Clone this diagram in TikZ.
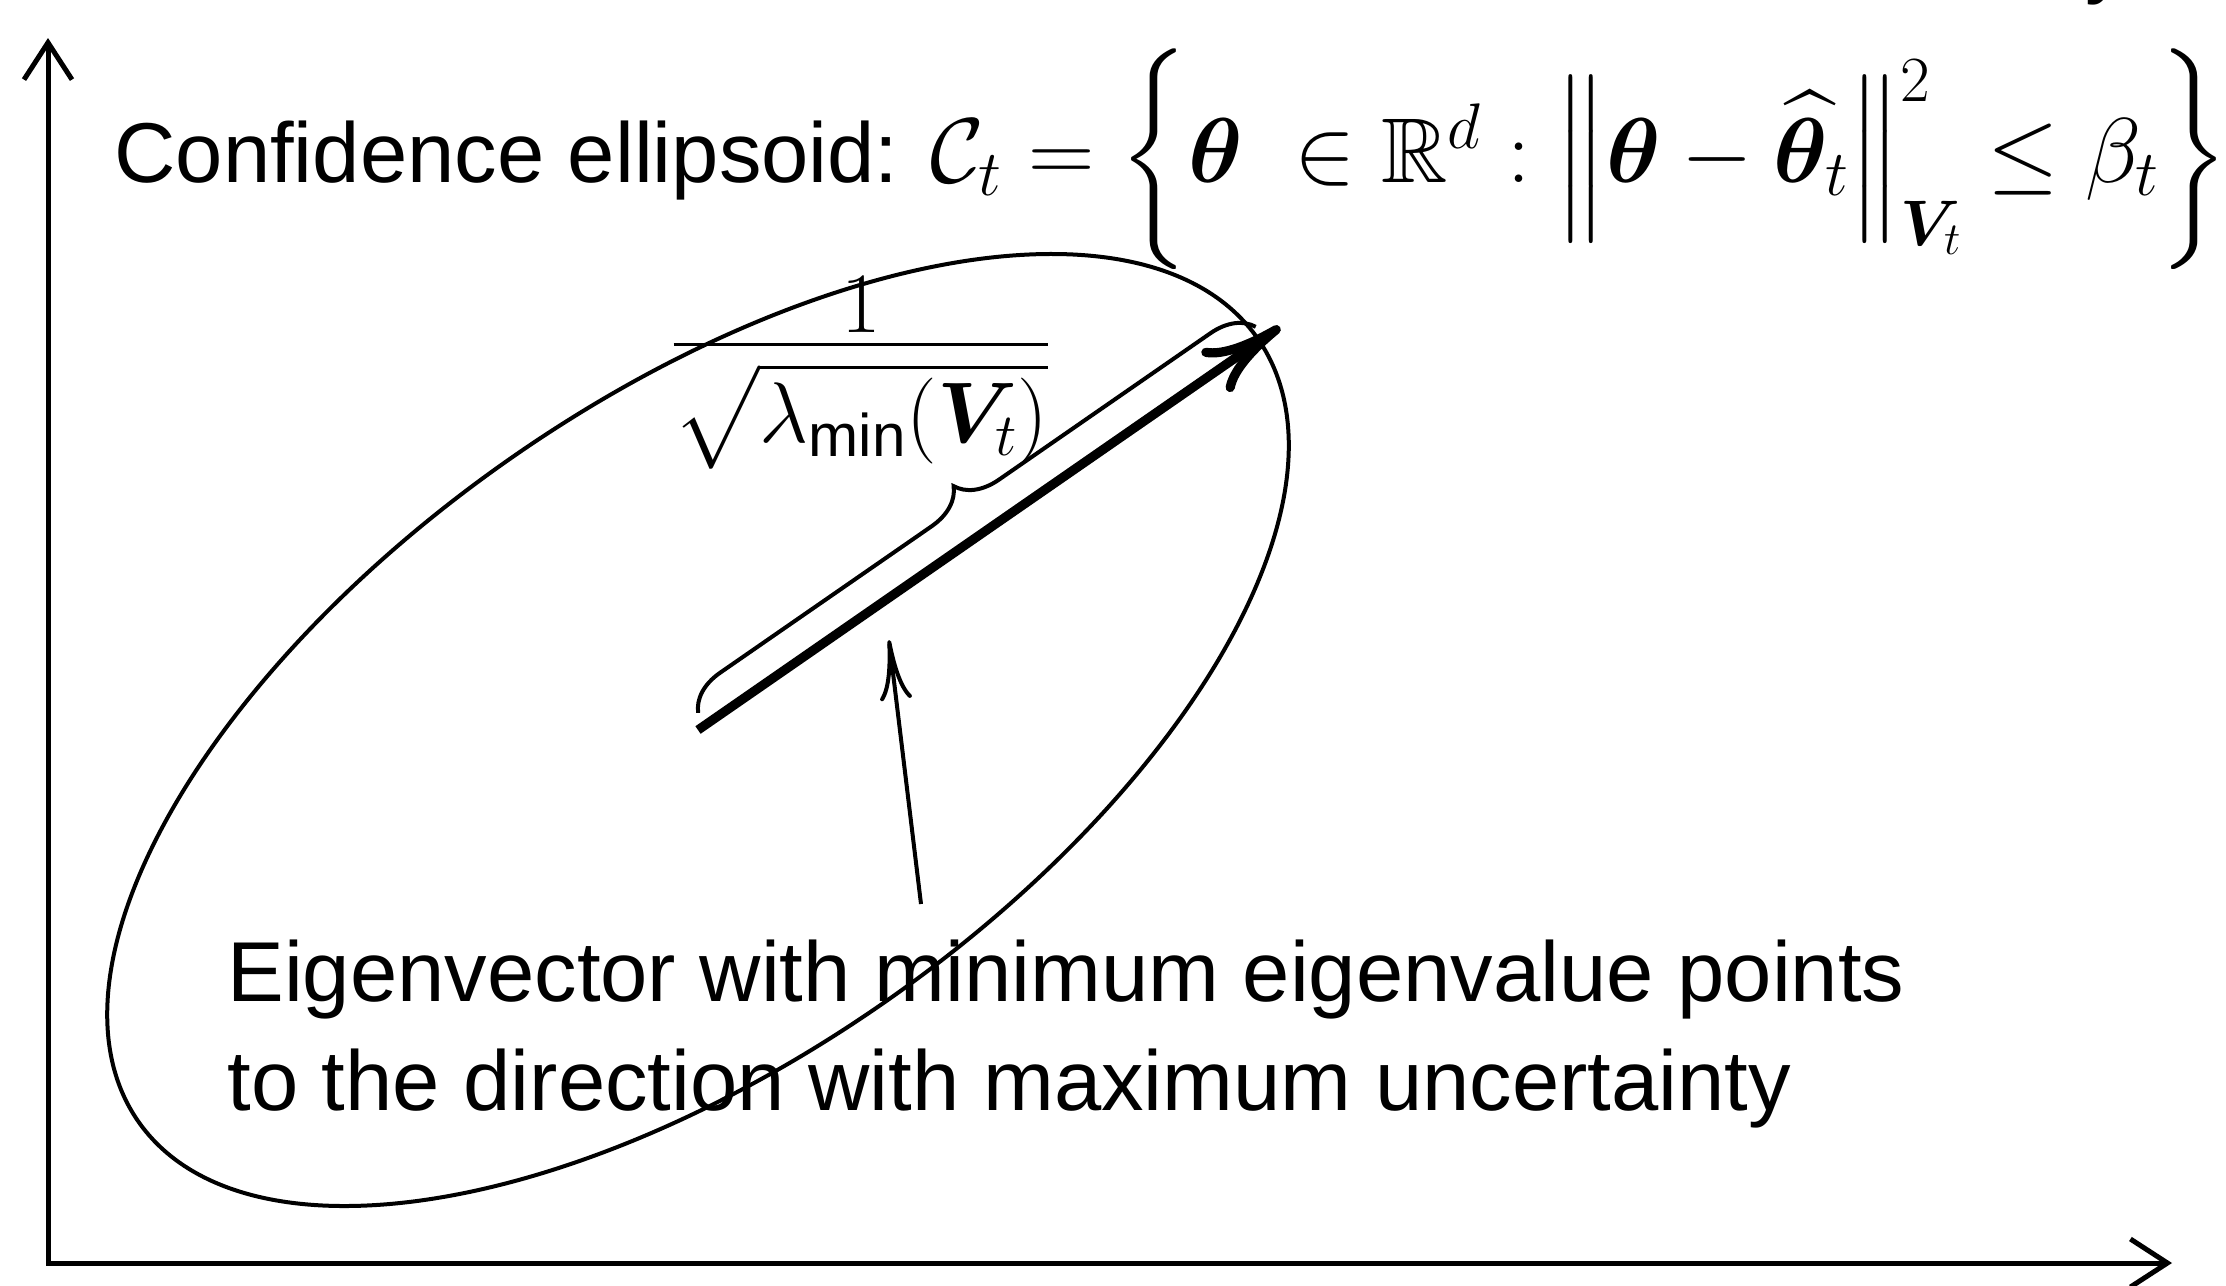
\RequirePackage{fix-cm}
\documentclass[tikz,border=0pt]{standalone}
\usepackage{amsmath,amssymb}
\usepackage{bm}
\usepackage[no-math]{fontspec}
\newfontfamily\hv{Liberation Sans}
\usetikzlibrary{arrows.meta,decorations.pathreplacing,calc}
\tikzset{
  axisline/.style={line width=2.5pt, line join=miter,
    {Straight Barb[length=18.5pt,width=24pt]}-{Straight Barb[length=18.5pt,width=24pt]}},
  ell/.style={line width=2pt},
  vecarrow/.style={line width=4.6pt, -{Computer Modern Rightarrow[length=40pt,width=26pt]}},
  pointer/.style={line width=2pt, -{Computer Modern Rightarrow[length=30pt,width=16pt]}},
  bracestyle/.style={line width=2pt, decorate, decoration={brace, amplitude=20.5pt, raise=7pt}},
  txt/.style={inner sep=0pt, font=\fontsize{42.5}{54.5}\selectfont\hv},
  mth/.style={inner sep=0pt, font=\fontsize{43}{52}\selectfont}
}
\begin{document}
\begin{tikzpicture}[x=0.5pt,y=-0.5pt]
\useasboundingbox (0,0) rectangle (2226,1285);
% axes
\coordinate (Ytip) at (48,38);
\coordinate (O) at (48,1263);
\coordinate (Xtip) at (2172,1263);
\draw[axisline] (Ytip) -- (O) -- (Xtip);
% ellipse
\coordinate (C) at (698,730);
\draw[ell, rotate around={35:(C)}] (C) ellipse [x radius=683, y radius=330];
% eigenvector arrow
\coordinate (T) at (1280,327);
\draw[vecarrow] (C) -- (T);
% brace
\coordinate (B1) at ($(C)!0.014!(T)$);
\coordinate (B2) at ($(C)!0.972!(T)$);
\draw[bracestyle] (B1) -- (B2);
% brace label (fraction bar centred at (861,345))
\node[mth, anchor=base] (lab) at (861,366) {$\frac{\textstyle 1}{\textstyle\rule{0pt}{1.08em}\sqrt{\lambda_{\text{\hv min}}(\bm{V}_t)}}$};
% title
\node[txt, anchor=base west] (title) at (114,182) {Confidence ellipsoid: {\fontsize{46}{56}\selectfont$\mathcal{C}_t = \left\{\bm{\theta}\ \in \mathbb{R}^d : \left\|\bm{\theta} - \widehat{\bm{\theta}}_t\right\|^2_{\bm{V}_t} \leq \beta_t\right\}$}};
% clipped glyph at top right
\node[txt, anchor=base west] (ycut) at (2085,-12) {y};
% explanation
\node[txt, anchor=base west] (exp1) at (227,1001) {Eigenvector with minimum eigenvalue points};
\node[txt, anchor=base west] (exp2) at (227,1110) {to the direction with maximum uncertainty};
% pointer
\coordinate (P0) at (921,904);
\coordinate (P1) at (889,640);
\draw[pointer] (P0) -- (P1);
\end{tikzpicture}
\end{document}
